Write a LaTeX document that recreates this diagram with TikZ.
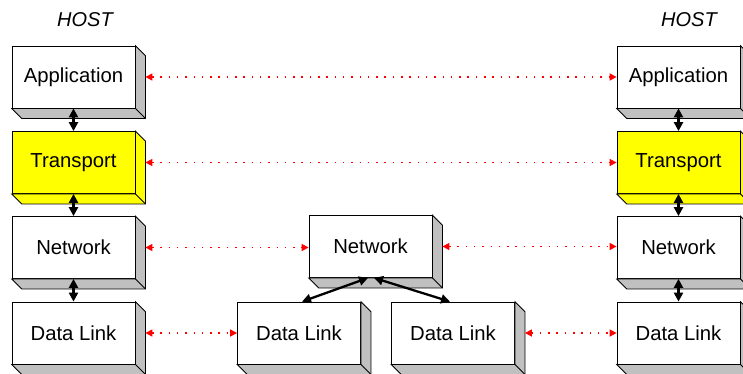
\documentclass[tikz,border=0pt]{standalone}
\usepackage{fontspec}
\setmainfont{Liberation Sans}
\usetikzlibrary{arrows.meta}

\definecolor{depthgray}{RGB}{192,192,192}
\definecolor{layeryellow}{RGB}{255,255,0}

\tikzset{
	layer/.style={draw=black, line width=0.8pt, minimum width=123pt, minimum height=62pt, inner sep=0pt, font=\fontsize{20.3}{24}\selectfont},
	depth/.style={draw=black, line width=0.8pt, line join=miter},
	stack/.style={{Triangle[length=9pt,width=9pt]}-{Triangle[length=9pt,width=9pt]}, line width=2.3pt, black},
	peer/.style={{Triangle[length=7pt,width=7pt]}-{Triangle[length=7pt,width=7pt]}, red, line width=1.5pt, dash pattern=on 1.5pt off 6.8pt},
	hostlabel/.style={font=\fontsize{20}{24}\selectfont\itshape}
}

% block with its grey (or yellow) side and bottom
\newcommand{\layerblock}[6]{%
	\node[layer, fill=#5] (#1) at (#2,#3) {#4};
	\draw[depth, fill=#6] (#1.north east) -- ++(10,10) -- ([shift={(10,10)}]#1.south east) -- ([shift={(10,10)}]#1.south west) -- (#1.south west) -- (#1.south east) -- cycle;
	\draw[depth] (#1.south east) -- ++(10,10);
}

\begin{document}
\begin{tikzpicture}[x=1pt, y=-1pt]
	\useasboundingbox (0,0) rectangle (743,373);

	\node[hostlabel] (hostL) at (85,20) {HOST};
	\node[hostlabel] (hostR) at (689,20) {HOST};

	% left host
	\layerblock{appL}{73.5}{77}{Application}{white}{depthgray}
	\layerblock{trL}{73.5}{162.5}{Transport}{layeryellow}{layeryellow}
	\layerblock{netL}{73.5}{247.5}{Network}{white}{depthgray}
	\layerblock{dlL}{73.5}{333}{Data Link}{white}{depthgray}

	% router in the middle
	\layerblock{netM}{370.5}{246.5}{Network}{white}{depthgray}
	\layerblock{dlA}{299}{333}{Data Link}{white}{depthgray}
	\layerblock{dlB}{453}{333}{Data Link}{white}{depthgray}

	% right host
	\layerblock{appR}{678.5}{77}{Application}{white}{depthgray}
	\layerblock{trR}{678.5}{162.5}{Transport}{layeryellow}{layeryellow}
	\layerblock{netR}{678.5}{247.5}{Network}{white}{depthgray}
	\layerblock{dlR}{678.5}{333}{Data Link}{white}{depthgray}

	% stacks
	\draw[stack] (appL.south) -- (trL.north);
	\draw[stack] (trL.south) -- (netL.north);
	\draw[stack] (netL.south) -- (dlL.north);
	\draw[stack] (appR.south) -- (trR.north);
	\draw[stack] (trR.south) -- (netR.north);
	\draw[stack] (netR.south) -- (dlR.north);
	\draw[stack] ([xshift=-2.5pt]netM.south) -- ([xshift=3pt]dlA.north);
	\draw[stack] ([xshift=3.5pt]netM.south) -- ([xshift=-3pt]dlB.north);

	% peer to peer
	\draw[peer] ([xshift=10pt]appL.east) -- (appR.west);
	\draw[peer] ([xshift=10pt]trL.east) -- (trR.west);
	\draw[peer] ([xshift=10pt]netL.east) -- (netL.east -| netM.west);
	\draw[peer] ([xshift=10pt]netM.east) -- (netM.east -| netR.west);
	\draw[peer] ([xshift=10pt]dlL.east) -- (dlA.west);
	\draw[peer] ([xshift=10pt]dlB.east) -- (dlR.west);
\end{tikzpicture}
\end{document}
